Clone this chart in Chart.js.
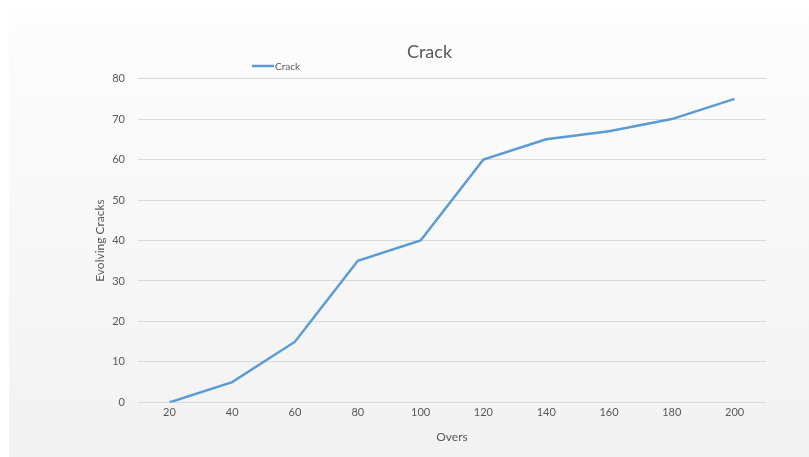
<!DOCTYPE html>
<html>
<head>
<meta charset="utf-8">
<style>
  html, body { margin: 0; padding: 0; background: #ffffff; }
  #wrap { width: 809px; height: 457px; position: relative; }
</style>
<script src="https://cdn.jsdelivr.net/npm/chart.js@4/dist/chart.umd.min.js"></script>
</head>
<body>
<div id="wrap"><canvas id="c" width="809" height="457"></canvas></div>
<script>
// Crack growth against overs
const overs = ['20', '40', '60', '80', '100', '120', '140', '160', '180', '200'];
const crackValues = [0, 5, 15, 35, 40, 60, 65, 67, 70, 75];
const seriesName = 'Crack';
const chartTitle = 'Crack';
const xTitle = 'Overs';
const yTitle = 'Evolving Cracks';

const FONT = 'Lato, "Open Sans", sans-serif';
const TEXT = '#595959';
const LINE = '#5b9bd5';

// Soft panel behind the chart
const panel = {
  id: 'panel',
  beforeDraw(chart) {
    const ctx = chart.ctx;
    ctx.save();
    ctx.fillStyle = '#ffffff';
    ctx.fillRect(0, 0, chart.width, chart.height);
    const g = ctx.createLinearGradient(0, 8, 0, chart.height);
    g.addColorStop(0, '#fdfdfd');
    g.addColorStop(1, '#f2f2f2');
    ctx.fillStyle = g;
    ctx.fillRect(9, 8, chart.width - 9, chart.height - 8);
    ctx.restore();
  }
};

// Compact legend placed left of the title
const sideLegend = {
  id: 'sideLegend',
  afterDraw(chart) {
    const ctx = chart.ctx;
    const ds = chart.data.datasets[0];
    const x = 252, y = 66;
    ctx.save();
    ctx.strokeStyle = ds.borderColor;
    ctx.lineWidth = 2.5;
    ctx.beginPath();
    ctx.moveTo(x, y);
    ctx.lineTo(x + 22, y);
    ctx.stroke();
    ctx.fillStyle = TEXT;
    ctx.font = '10px ' + FONT;
    ctx.textBaseline = 'middle';
    ctx.textAlign = 'left';
    ctx.fillText(ds.label, x + 23, y + 0.5);
    ctx.restore();
  }
};

new Chart(document.getElementById('c'), {
  type: 'line',
  data: {
    labels: overs,
    datasets: [{
      label: seriesName,
      data: crackValues,
      borderColor: LINE,
      backgroundColor: LINE,
      borderWidth: 2.5,
      pointRadius: 0,
      tension: 0,
      fill: false
    }]
  },
  options: {
    responsive: false,
    animation: false,
    devicePixelRatio: 1,
    layout: { padding: { top: 41, left: 93, right: 43, bottom: 13 } },
    plugins: {
      legend: { display: false },
      tooltip: { enabled: false },
      title: {
        display: true,
        text: chartTitle,
        color: TEXT,
        font: { family: FONT, size: 18, weight: 'normal' },
        padding: { top: 0, bottom: 16 }
      }
    },
    scales: {
      x: {
        offset: true,
        grid: { display: false, drawTicks: false },
        border: { display: false },
        ticks: { color: TEXT, font: { family: FONT, size: 11 }, padding: 3, maxRotation: 0 },
        title: {
          display: true, text: xTitle, color: TEXT,
          font: { family: FONT, size: 12 }, padding: { top: 8, bottom: 0 }
        }
      },
      y: {
        min: 0, max: 80,
        afterFit(axis) { axis.width = 45; },
        ticks: { stepSize: 10, color: TEXT, font: { family: FONT, size: 11 }, padding: 13 },
        grid: { color: '#d9d9d9', lineWidth: 1, drawTicks: false },
        border: { display: false },
        title: {
          display: true, text: yTitle, color: TEXT,
          font: { family: FONT, size: 12 }, padding: { top: 0, bottom: 4 }
        }
      }
    }
  },
  plugins: [panel, sideLegend]
});
</script>
</body>
</html>
